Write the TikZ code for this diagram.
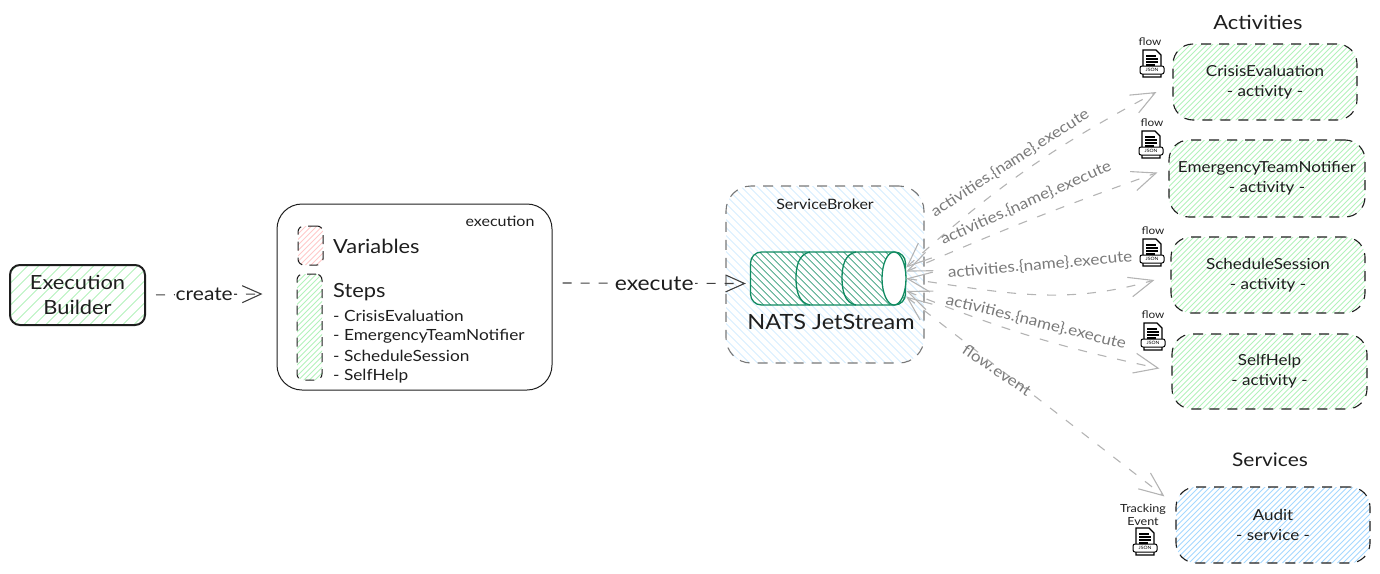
\documentclass[tikz,border=0pt]{standalone}
\usepackage{fontspec}
\setmainfont[FakeStretch=1.12]{Lato}
\usetikzlibrary{arrows.meta,shapes.geometric}
\definecolor{hatchgreen}{HTML}{B2F2BB}
\definecolor{hatchblue}{HTML}{A5D8FF}
\definecolor{hatchpink}{HTML}{FFC9C9}
\definecolor{natsgreen}{HTML}{0F8A60}
\definecolor{ink}{HTML}{1E1E1E}
\definecolor{wire}{HTML}{B4B4B4}
\definecolor{wiretext}{HTML}{7A7A7A}

\begin{document}
\begin{tikzpicture}
 [x=1pt, y=-1pt,
  hatch/.style n args={4}{path picture={
    \foreach \d in {-420,#2,...,420}
      \draw[solid, #1, line width=#4] ([shift={(\d-300,300*#3)}]path picture bounding box.center) -- ([shift={(\d+300,-300*#3)}]path picture bounding box.center);
  }},
  dashed box/.style={rectangle, draw=ink, line width=1.1pt, rounded corners=20pt, dash pattern=on 10pt off 8pt, align=center, font=\fontsize{15.2}{20}\selectfont, text=ink},
  activity node/.style={dashed box, hatch={hatchgreen}{-414.5}{1}{.8pt}},
  service node/.style={dashed box, hatch={hatchblue}{-414.5}{1}{.8pt}},
  legend node/.style={rectangle, draw=ink, line width=1pt, rounded corners=6pt, dash pattern=on 9pt off 7pt, minimum width=25pt},
  group title/.style={font=\fontsize{19.5}{22}\selectfont, text=ink},
  small label/.style={font=\fontsize{10.5}{13}\selectfont, text=ink, align=center},
  step label/.style={anchor=west, inner sep=0pt, font=\fontsize{15.4}{18}\selectfont, text=ink},
  main label/.style={anchor=west, inner sep=0pt, font=\fontsize{19.5}{22}\selectfont, text=ink},
  main arrow/.style={draw=ink!85, line width=1.1pt, dash pattern=on 9pt off 9pt, -{Straight Barb[length=19pt,width=17pt,line width=1.1pt]}},
  topic arrow/.style={draw=wire, line width=1.1pt, dash pattern=on 9pt off 11pt, {Straight Barb[length=24pt,width=20pt,line width=1.1pt]}-{Straight Barb[length=24pt,width=20pt,line width=1.1pt]}},
  topic label/.style={font=\fontsize{15.3}{16}\selectfont, text=wiretext, inner sep=0pt},
  jsonfile/.pic={
    \draw[fill=white, line width=1.2pt] (-9,-14) -- (4,-14) -- (9,-9) -- (9,13) -- (-9,13) -- cycle;
    \draw[line width=1.6pt] (-6,-8) -- (4,-8) (-6,-5) -- (6,-5) (-6,-2) -- (6,-2) (-6,1) -- (3,1);
    \node (json) [draw, fill=white, line width=1pt, rounded corners=2pt, minimum width=24pt, minimum height=8pt, inner sep=0pt, font=\fontsize{4.5}{5}\selectfont] at (0,6) {JSON};
  }]

\useasboundingbox (0,0) rectangle (1380,573);

\node (builder) [rectangle, draw=ink, line width=2pt, rounded corners=10pt, minimum width=135pt, minimum height=60pt, hatch={hatchgreen}{-409}{1}{1pt}, align=center, text=ink, font=\fontsize{19.5}{25}\selectfont] at (77.5,295) {Execution\\Builder};

\node (execution) [rectangle, draw=ink, line width=1pt, rounded corners=25pt, minimum width=275pt, minimum height=186pt] at (414.5,297) {};
\node (executionname) [small label, font=\fontsize{14.3}{16}\selectfont] at (500,221) {execution};
\node (variablesbox) [legend node, minimum height=39pt, hatch={hatchpink}{-414.5}{1}{.8pt}] at (310.5,245.5) {};
\node (stepsbox) [legend node, minimum height=106pt, hatch={hatchgreen}{-414.5}{1}{.8pt}] at (309.5,327) {};
\node (variables) [main label] at (333,246) {Variables};
\node (steps) [main label] at (333,292) {Steps};
\node (stepa) [step label] at (333,316) {- CrisisEvaluation};
\node (stepb) [step label] at (333,336) {- EmergencyTeamNotifier};
\node (stepc) [step label] at (333,356) {- ScheduleSession};
\node (stepd) [step label] at (333,376) {- SelfHelp};

\node (broker) [rectangle, draw=ink!60, line width=1.1pt, rounded corners=25pt, dash pattern=on 10pt off 8pt, minimum width=198pt, minimum height=177pt, hatch={hatchblue!45}{-412}{-1}{.8pt}] at (825,274.5) {};
\node (brokername) [small label, font=\fontsize{14.3}{16}\selectfont] at (825,204) {ServiceBroker};
\node (jetstream) [rectangle, draw=natsgreen, fill=white, line width=1.3pt, rounded corners=11pt, minimum width=155pt, minimum height=53pt, inner sep=0pt, hatch={natsgreen!85}{-413}{-1}{.7pt}] at (828,278.5) {};
\node (jetstreamend) [ellipse, draw=natsgreen, fill=white, line width=1.3pt, minimum width=24pt, minimum height=53pt, inner sep=0pt] at (894,278.5) {};
\draw[natsgreen, line width=1.3pt] (810,252) to [out=190, in=90] (796,278) to [out=-90, in=170] (810,305);
\draw[natsgreen, line width=1.3pt] (856,252) to [out=190, in=90] (842,278) to [out=-90, in=170] (856,305);
\node (natsname) [font=\fontsize{21}{24}\selectfont, text=ink] at (831,322) {NATS JetStream};

\node (activities) [group title] at (1258,22) {Activities};
\node (crisis) [activity node, minimum width=184pt, minimum height=76pt] at (1265,82) {CrisisEvaluation\\- activity -};
\node (emergency) [activity node, minimum width=196pt, minimum height=77pt] at (1267,178.5) {EmergencyTeamNotifier\\- activity -};
\node (schedule) [activity node, minimum width=194pt, minimum height=76pt] at (1268,275) {ScheduleSession\\- activity -};
\node (selfhelp) [activity node, minimum width=195pt, minimum height=75pt] at (1269.5,371.5) {SelfHelp\\- activity -};

\node (services) [group title, font=\fontsize{18.7}{22}\selectfont] at (1270,460) {Services};
\node (audit) [service node, minimum width=194pt, minimum height=76pt] at (1273,525) {Audit\\- service -};

\node (flowa) [small label] at (1150,42) {flow};
\pic (filea) at (1152,64) {jsonfile};
\node (flowb) [small label] at (1152,123) {flow};
\pic (fileb) at (1151,145) {jsonfile};
\node (flowc) [small label] at (1153,231) {flow};
\pic (filec) at (1152,253) {jsonfile};
\node (flowd) [small label] at (1153,315) {flow};
\pic (filed) at (1153,337) {jsonfile};
\node (tracking) [small label, font=\fontsize{11.2}{13.5}\selectfont] at (1143,515) {Tracking\\Event};
\pic (filee) at (1145,542) {jsonfile};

\path
  (builder.east) edge [main arrow, shorten <=10pt] node (create) [fill=white, inner sep=1pt, text=ink, font=\fontsize{18.7}{22}\selectfont] {create} ([shift={(-14,-3)}]execution.west)
  ([shift={(10,-14)}]execution.east) edge [main arrow] node (execute) [fill=white, inner sep=1pt, text=ink, font=\fontsize{20.4}{22}\selectfont] {execute} ([shift={(-4,5)}]jetstream.west);

\path
  (jetstream.8) edge [topic arrow, bend left=7] ([shift={(-16,10)}]crisis.west)
  (jetstream.5) edge [topic arrow, bend left=2] ([shift={(-11,-6)}]emergency.west)
  (jetstream.0) edge [topic arrow, out=-8, in=196] ([shift={(-16,5)}]schedule.west)
  (jetstream.-9) edge [topic arrow, bend right=5] ([shift={(-12,-3)}]selfhelp.west)
  (jetstream.-13) edge [topic arrow] ([shift={(-11,10)}]audit.north west);

\node (topica) [topic label, rotate=33] at (1010,163) {activities.\{name\}.execute};
\node (topicb) [topic label, rotate=24] at (1026,203) {activities.\{name\}.execute};
\node (topicc) [topic label, rotate=5] at (1040,265) {activities.\{name\}.execute};
\node (topicd) [topic label, rotate=-14] at (1036,322) {activities.\{name\}.execute};
\node (topice) [topic label, rotate=-34] at (997,370) {flow.event};

\end{tikzpicture}
\end{document}
